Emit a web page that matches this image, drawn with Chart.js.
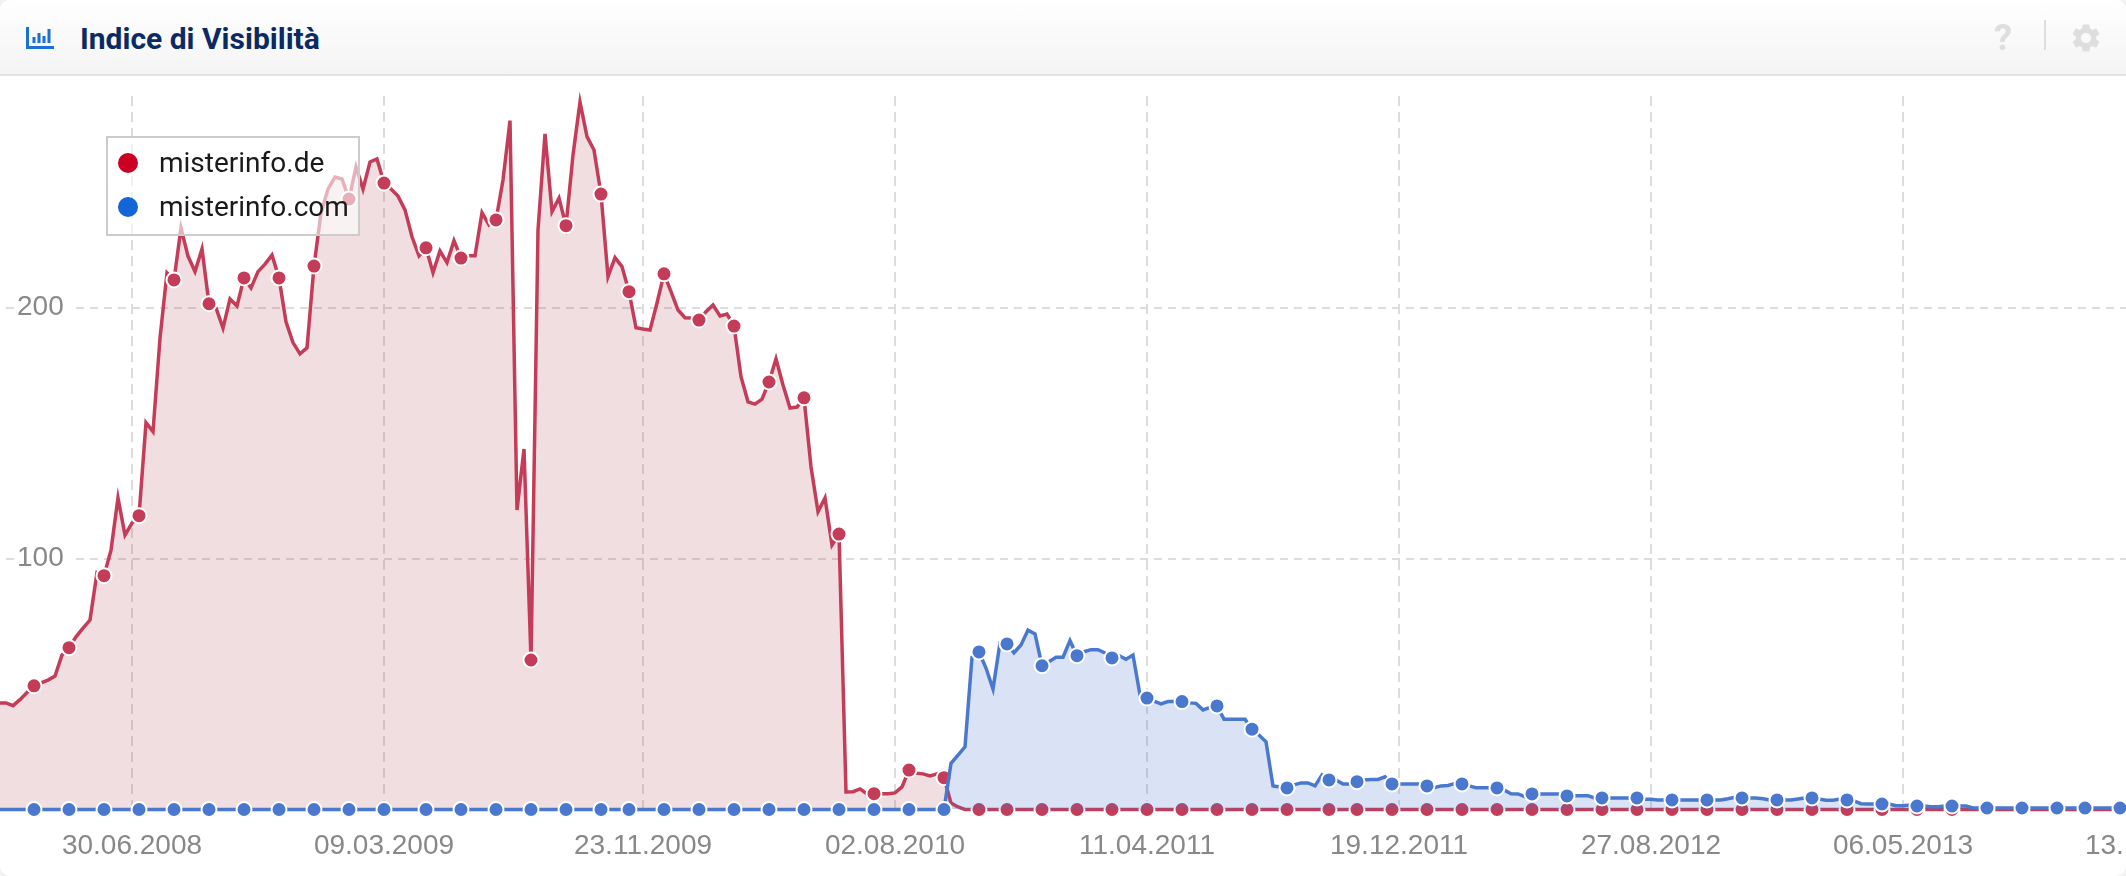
<!DOCTYPE html>
<html>
<head>
<meta charset="utf-8">
<title>Indice di Visibilità</title>
<script src="https://cdn.jsdelivr.net/npm/chart.js@4"></script>
<style>
    html, body { margin: 0; padding: 0; width: 2126px; height: 876px; overflow: hidden; background: #f2f2f2; }
    #panel { position: relative; width: 2126px; height: 876px; overflow: hidden; background: #fff; border-radius: 10px; }
    #head { position: absolute; left: 0; top: 0; width: 2126px; height: 74px; background: linear-gradient(#fff, #f4f4f4); border-bottom: 2px solid #e3e3e3; }
    #title { position: absolute; left: 80px; top: 21px; font: 700 30px/36px Roboto, sans-serif; color: #0b2a63; white-space: nowrap; }
    #help { position: absolute; left: 1994px; top: 17px; font: 700 36px/42px Roboto, sans-serif; color: #dedede; }
    #sep { position: absolute; left: 2044px; top: 20px; width: 2px; height: 30px; background: #dedede; }
    #chart { position: absolute; left: 0; top: 0; }
    #labelcut { position: absolute; left: 2124px; top: 825px; width: 2px; height: 40px; background: #fff; }
    #legend { position: absolute; left: 106px; top: 136px; width: 250px; height: 96px; border: 2px solid #ccc; background: rgba(255, 255, 255, 0.6); font: 28px/44px Roboto, sans-serif; color: #1a1a1a; }
    #legend div { position: absolute; left: 51px; white-space: nowrap; }
    #legend i { position: absolute; left: -41px; top: 12px; width: 20px; height: 20px; border-radius: 50%; }
</style>
</head>
<body>
<div id="panel">
    <canvas id="chart" width="2300" height="876"></canvas>
    <div id="labelcut"></div>
    <div id="head">
        <svg style="position:absolute;left:26px;top:27px" width="28" height="22" viewBox="0 0 28 22">
            <path d="M1.5 0V20.5H28" fill="none" stroke="#1a6fd8" stroke-width="3"/>
            <path d="M8 10v6M13 6v10M18 9v7M23 2v14" fill="none" stroke="#1a6fd8" stroke-width="3"/>
        </svg>
        <div id="title">Indice di Visibilità</div>
        <div id="help">?</div>
        <div id="sep"></div>
        <svg style="position:absolute;left:2069px;top:21px" width="34" height="34" viewBox="0 0 24 24">
            <path fill="#dedede" d="M19.14,12.94c0.04-0.3,0.06-0.61,0.06-0.94c0-0.32-0.02-0.64-0.07-0.94l2.03-1.58c0.18-0.14,0.23-0.41,0.12-0.61l-1.92-3.32c-0.12-0.22-0.37-0.29-0.59-0.22l-2.39,0.96c-0.5-0.38-1.03-0.7-1.62-0.94L14.4,2.81c-0.04-0.24-0.24-0.41-0.48-0.41h-3.84c-0.24,0-0.43,0.17-0.47,0.41L9.25,5.35C8.66,5.59,8.12,5.92,7.63,6.29L5.24,5.33c-0.22-0.08-0.47,0-0.59,0.22L2.74,8.87C2.62,9.08,2.66,9.34,2.86,9.48l2.03,1.58C4.84,11.36,4.8,11.69,4.8,12s0.02,0.64,0.07,0.94l-2.03,1.58c-0.18,0.14-0.23,0.41-0.12,0.61l1.92,3.32c0.12,0.22,0.37,0.29,0.59,0.22l2.39-0.96c0.5,0.38,1.03,0.7,1.62,0.94l0.36,2.54c0.05,0.24,0.24,0.41,0.48,0.41h3.84c0.24,0,0.44-0.17,0.47-0.41l0.36-2.54c0.59-0.24,1.13-0.56,1.62-0.94l2.39,0.96c0.22,0.08,0.47,0,0.59-0.22l1.92-3.32c0.12-0.22,0.07-0.47-0.12-0.61L19.14,12.94z M12,15.6c-1.98,0-3.6-1.62-3.6-3.6s1.62-3.6,3.6-3.6s3.6,1.62,3.6,3.6S13.98,15.6,12,15.6z"/>
        </svg>
    </div>
    <div id="legend">
        <div style="top:3px"><i style="background:#cc0022"></i>misterinfo.de</div>
        <div style="top:47px"><i style="background:#1266d6"></i>misterinfo.com</div>
    </div>
</div>
<script>
// weekly values, first point is the week of 18.02.2008
var deValues = [
    42.5, 42.5, 41.4, 43.8, 46.6, 49.3, 50.5, 51.6, 53.2, 61.6,
    64.5, 68.8, 72.3, 75.5, 94.4, 93.2, 103.4, 124.2, 109.4, 114.2,
    117.1, 154.2, 150.6, 187.9, 213.9, 211.1, 231.8, 220.6, 214.4, 223.4,
    201.6, 199.9, 191.9, 203.5, 200.7, 211.9, 207.9, 214.4, 217.4, 221.0,
    211.9, 194.4, 186.1, 181.6, 184.0, 216.6, 237.8, 247.3, 252.1, 251.3,
    243.3, 256.1, 247.3, 258.1, 259.3, 249.7, 247.3, 244.5, 239.0, 228.3,
    220.7, 223.9, 214.0, 222.6, 218.0, 226.7, 219.8, 220.7, 220.7, 237.9,
    233.0, 235.0, 250.9, 274.6, 119.4, 143.7, 59.6, 231.0, 269.3, 238.3,
    243.7, 232.7, 260.9, 282.0, 268.2, 262.9, 245.3, 212.4, 220.0, 216.4,
    206.4, 192.0, 191.5, 191.1, 201.9, 213.5, 206.4, 199.1, 196.0, 195.9,
    195.1, 198.4, 201.1, 196.7, 197.5, 192.7, 172.5, 162.5, 161.6, 163.6,
    170.4, 179.6, 169.2, 160.0, 160.4, 164.1, 136.6, 118.7, 124.2, 105.4,
    109.8, 7.0, 7.1, 8.2, 6.2, 6.3, 6.3, 6.3, 6.6, 9.0,
    15.7, 14.5, 14.2, 13.4, 14.2, 12.7, 2.6, 1.0, 0, 0,
    0, 0, 0, 0, 0, 0, 0, 0, 0, 0,
    0, 0, 0, 0, 0, 0, 0, 0, 0, 0,
    0, 0, 0, 0, 0, 0, 0, 0, 0, 0,
    0, 0, 0, 0, 0, 0, 0, 0, 0, 0,
    0, 0, 0, 0, 0, 0, 0, 0, 0, 0,
    0, 0, 0, 0, 0, 0, 0, 0, 0, 0,
    0, 0, 0, 0, 0, 0, 0, 0, 0, 0,
    0, 0, 0, 0, 0, 0, 0, 0, 0, 0,
    0, 0, 0, 0, 0, 0, 0, 0, 0, 0,
    0, 0, 0, 0, 0, 0, 0, 0, 0, 0,
    0, 0, 0, 0, 0, 0, 0, 0, 0, 0,
    0, 0, 0, 0, 0, 0, 0, 0, 0, 0,
    0, 0, 0, 0, 0, 0, 0, 0, 0, 0,
    0, 0, 0, 0, 0, 0, 0, 0, 0, 0,
    0, 0, 0, 0, 0, 0, 0, 0, 0, 0,
    0, 0, 0, 0, 0, 0, 0, 0, 0, 0,
    0, 0, 0, 0, 0, 0
];
var comValues = [
    0, 0, 0, 0, 0, 0, 0, 0, 0, 0,
    0, 0, 0, 0, 0, 0, 0, 0, 0, 0,
    0, 0, 0, 0, 0, 0, 0, 0, 0, 0,
    0, 0, 0, 0, 0, 0, 0, 0, 0, 0,
    0, 0, 0, 0, 0, 0, 0, 0, 0, 0,
    0, 0, 0, 0, 0, 0, 0, 0, 0, 0,
    0, 0, 0, 0, 0, 0, 0, 0, 0, 0,
    0, 0, 0, 0, 0, 0, 0, 0, 0, 0,
    0, 0, 0, 0, 0, 0, 0, 0, 0, 0,
    0, 0, 0, 0, 0, 0, 0, 0, 0, 0,
    0, 0, 0, 0, 0, 0, 0, 0, 0, 0,
    0, 0, 0, 0, 0, 0, 0, 0, 0, 0,
    0, 0, 0, 0, 0, 0, 0, 0, 0, 0,
    0, 0, 0, 0, 0, 0, 18.4, 21.7, 25.0, 60.7,
    62.8, 56.4, 48.0, 66.4, 66.0, 62.5, 65.6, 71.5, 70.0, 57.3,
    58.9, 60.7, 60.7, 67.3, 61.3, 62.9, 63.7, 63.7, 62.4, 60.4,
    61.3, 59.9, 61.6, 45.6, 44.4, 43.2, 42.1, 43.0, 43.0, 43.0,
    42.5, 42.3, 39.7, 40.7, 41.3, 36.0, 36.0, 36.0, 36.0, 32.0,
    29.7, 27.0, 9.4, 9.0, 8.6, 9.8, 10.6, 10.6, 9.4, 13.8,
    11.8, 11.8, 10.2, 10.2, 11.1, 11.8, 12.0, 12.0, 13.0, 10.2,
    10.2, 10.2, 10.2, 10.2, 9.4, 8.7, 9.4, 9.6, 10.4, 10.2,
    9.4, 8.7, 8.7, 8.7, 8.6, 7.8, 6.3, 6.2, 5.1, 6.2,
    6.2, 6.2, 6.2, 6.2, 5.4, 5.5, 5.5, 5.5, 4.5, 4.6,
    4.6, 4.6, 4.6, 4.6, 4.6, 4.1, 4.1, 3.8, 3.8, 3.8,
    3.8, 3.8, 3.8, 3.8, 3.8, 3.8, 3.8, 4.3, 4.9, 4.6,
    4.6, 4.6, 4.3, 3.8, 3.8, 3.8, 3.8, 4.2, 4.6, 4.6,
    4.2, 3.7, 3.7, 4.2, 3.8, 3.4, 2.3, 2.2, 2.2, 2.2,
    2.2, 1.5, 1.5, 1.8, 1.4, 1.4, 1.1, 1.1, 1.4, 1.4,
    1.4, 1.4, 0.6, 0.6, 0.6, 0.6, 0.6, 0.6, 0.6, 0.6,
    0.6, 0.6, 0.6, 0.6, 0.6, 0.6, 0.6, 0.6, 0.6, 0.6,
    0.6, 0.6, 0.6, 0.6, 0.6, 0.6
];
// weeks that carry a dot on both lines
var markerWeeks = [
    5, 10, 15, 20, 25, 30, 35, 40, 45, 50, 55, 61, 66, 71, 76, 81, 86, 90, 95, 100,
    105, 110, 115, 120, 125, 130, 135, 140, 144, 149, 154, 159, 164, 169, 174, 179,
    184, 190, 194, 199, 204, 209, 214, 219, 224, 229, 234, 239, 244, 249, 254, 259,
    264, 269, 274, 279, 284, 289, 294, 298, 303
];
var tickWeeks = [19, 55, 92, 128, 164, 200, 236, 272, 308];
var tickLabels = ["30.06.2008", "09.03.2009", "23.11.2009", "02.08.2010", "11.04.2011", "19.12.2011", "27.08.2012", "06.05.2013", "13.01.2014"];
var yTicks = [100, 200];

function toPoints(values) {
    return values.map(function (v, i) { return { x: i, y: v }; });
}

function dotRadius(ctx) {
    return markerWeeks.indexOf(ctx.dataIndex) >= 0 ? 7.5 : 0;
}

var axisFont = { family: "'Liberation Sans', Arial, sans-serif", size: 28 };

new Chart(document.getElementById("chart"), {
    type: "line",
    data: {
        datasets: [
            {
                label: "misterinfo.com",
                data: toPoints(comValues),
                borderColor: "#4a78cf",
                backgroundColor: "rgba(70, 115, 205, 0.2)",
                pointBackgroundColor: "#4a78cf",
                borderWidth: 3.5,
                borderJoinStyle: "miter",
                tension: 0,
                fill: "origin",
                clip: false,
                pointRadius: dotRadius,
                pointBorderColor: "#fff",
                pointBorderWidth: 2
            },
            {
                label: "misterinfo.de",
                data: toPoints(deValues),
                borderColor: "#c43c58",
                backgroundColor: "rgba(180, 70, 90, 0.18)",
                pointBackgroundColor: "#c43c58",
                borderWidth: 3.5,
                borderJoinStyle: "miter",
                tension: 0,
                fill: "origin",
                clip: false,
                pointRadius: dotRadius,
                pointBorderColor: "#fff",
                pointBorderWidth: 2
            }
        ]
    },
    options: {
        responsive: false,
        animation: false,
        devicePixelRatio: 1,
        layout: { autoPadding: false, padding: { top: 96, left: 0, right: 0, bottom: 0 } },
        plugins: {
            legend: { display: false },
            tooltip: { enabled: false }
        },
        scales: {
            x: {
                type: "linear",
                min: 1 / 7,
                max: 1 / 7 + 2300 / 7,
                afterBuildTicks: function (axis) {
                    axis.ticks = tickWeeks.map(function (w) { return { value: w }; });
                },
                afterFit: function (axis) { axis.height = 66.5; },
                border: { display: false, dash: [10, 6] },
                grid: { color: "#dcdcdc", lineWidth: 2, drawTicks: false },
                ticks: {
                    autoSkip: false,
                    maxRotation: 0,
                    color: "#888",
                    font: axisFont,
                    padding: 20,
                    callback: function (value) { return tickLabels[tickWeeks.indexOf(value)]; }
                }
            },
            y: {
                min: 0,
                max: 284.4,
                afterBuildTicks: function (axis) {
                    axis.ticks = yTicks.map(function (v) { return { value: v }; });
                },
                afterFit: function (axis) { axis.width = 0; },
                border: { display: false, dash: [8, 6], dashOffset: 8 },
                grid: { color: "#dcdcdc", lineWidth: 2, drawTicks: false },
                ticks: {
                    mirror: true,
                    padding: 17,
                    color: "#888",
                    font: axisFont,
                    showLabelBackdrop: true,
                    backdropColor: "#fff",
                    backdropPadding: { left: 3, right: 7, top: 2, bottom: 2 }
                }
            }
        }
    }
});
</script>
</body>
</html>
